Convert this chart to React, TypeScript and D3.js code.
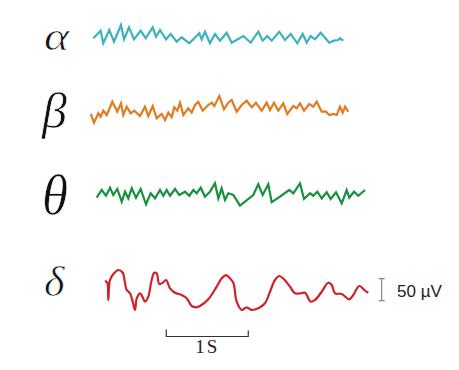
import React, { useEffect, useRef } from "react";
import * as d3 from "d3";

// Band names and colours
const bands = ["α", "β", "θ", "δ"];
const bandColors = ["#3bb3bd", "#e07b22", "#17903f", "#cf2127"];

// Time (s) and amplitude (µV) samples
const alphaT = [0.040,0.130,0.162,0.235,0.293,0.378,0.415,0.476,0.537,0.618,0.679,0.765,0.805,0.854,0.927,0.984,1.057,1.118,1.211,1.333,1.362,1.402,1.463,1.524,1.585,1.667,1.728,1.870,1.960,2.052,2.106,2.162,2.216,2.309,2.378,2.448,2.528,2.594,2.643,2.691,2.744,2.813,2.918,2.976,3.028,3.049,3.089];
const alphaV = [-7.5,9.8,-18.8,11.4,-15.2,22.7,-9.8,17.5,-9.8,9.8,-7.5,17.5,-3.9,11.4,-9.8,2.3,-15.2,-5.2,-18.8,3.9,-9.8,7.5,-18.8,2.3,-12.9,5.2,-17.5,-2.3,-17.5,7.5,-12.9,-2.3,-12.9,7.5,-11.4,2.3,-18.8,2.3,-17.5,-2.3,-9.8,5.2,-17.5,-12.9,-11.4,-7.5,-12.9];

const betaT = [0.009,0.049,0.101,0.130,0.162,0.204,0.272,0.333,0.378,0.406,0.448,0.496,0.540,0.610,0.671,0.711,0.765,0.813,0.874,0.915,0.955,0.996,1.028,1.065,1.098,1.138,1.199,1.240,1.280,1.321,1.374,1.443,1.484,1.516,1.577,1.634,1.687,1.728,1.789,1.850,1.911,1.972,2.024,2.094,2.155,2.195,2.244,2.296,2.357,2.406,2.479,2.521,2.561,2.610,2.674,2.723,2.765,2.826,2.878,2.918,2.967,3.009,3.049,3.082,3.110,3.150];
const betaV = [-9.1,-28.8,-7.5,-15.2,-1.6,-11.4,18.8,-3.9,15.2,-11.4,7.5,-7.5,-1.6,-13.6,7.5,-13.6,9.1,-18.8,-9.1,-22.7,-6.1,-16.6,6.1,-1.6,16.6,-11.4,3.9,-6.1,11.4,18.8,-1.6,11.4,16.6,9.1,31.8,1.6,16.6,22.7,-3.9,11.4,21.1,6.1,16.6,-1.6,16.6,0,16.6,-1.6,15.2,-9.1,9.1,3.9,15.2,-1.6,13.6,7.5,18.8,-3.9,-3.9,-11.4,-9.1,-11.4,7.5,-6.1,7.5,-3.9];

const thetaT = [0.082,0.143,0.195,0.244,0.284,0.333,0.387,0.427,0.467,0.509,0.561,0.618,0.683,0.740,0.793,0.854,0.894,0.935,0.976,1.037,1.089,1.159,1.211,1.260,1.301,1.350,1.402,1.463,1.524,1.565,1.606,1.646,1.687,1.748,1.829,1.991,2.052,2.106,2.174,2.216,2.317,2.430,2.479,2.561,2.610,2.683,2.723,2.772,2.826,2.887,2.935,3.000,3.070,3.130,3.162,3.220,3.272,3.354];
const thetaV = [-8.4,9.1,-3.9,14.3,-2.3,11.4,-17.5,5.2,-9.8,12.9,-8.4,11.4,-23.4,1.6,-9.8,9.1,-3.9,9.1,-3.9,11.4,-2.3,5.2,-3.9,9.1,1.6,14.3,-6.1,5.2,24.3,-9.8,12.9,-13.6,1.6,-2.3,-26.6,-2.3,22.0,-2.3,22.0,-18.8,-6.1,9.1,1.6,24.3,-11.4,1.6,-3.9,5.2,-9.8,3.9,-11.4,3.9,-21.1,9.1,-8.4,5.2,-3.9,9.1];

const deltaT = [0.183,0.211,0.223,0.244,0.293,0.345,0.399,0.427,0.448,0.488,0.521,0.549,0.570,0.610,0.643,0.671,0.711,0.752,0.784,0.813,0.845,0.887,0.927,0.976,1.037,1.118,1.179,1.240,1.293,1.341,1.443,1.545,1.606,1.659,1.707,1.748,1.789,1.850,1.911,1.972,2.052,2.134,2.195,2.256,2.309,2.366,2.439,2.500,2.570,2.622,2.691,2.744,2.826,2.906,2.948,2.988,3.070,3.162,3.210,3.284,3.354,3.394];
const deltaV = [23.4,18.8,-20.4,25.0,40.2,47.7,41.5,17.5,2.3,-5.2,-24.3,-43.1,-16.6,-5.2,-14.3,-24.3,-12.9,25.0,41.5,40.2,15.9,18.8,25.0,6.1,-3.9,-9.1,-16.6,-34.1,-37.0,-34.1,-18.8,9.8,28.8,36.3,28.8,18.8,-24.3,-43.1,-37.0,-43.1,-39.3,-27.9,-1.6,25.0,34.1,26.6,9.8,-5.2,-5.2,-3.9,-24.3,-20.4,-1.6,18.8,13.6,-5.2,-6.8,-18.8,-9.1,11.4,0.7,-3.9];

const seriesT = [alphaT, betaT, thetaT, deltaT];
const seriesV = [alphaV, betaV, thetaV, deltaV];

// Scale bars
const timeBarStart = 0.93; // s
const timeBarLength = 1; // s
const timeBarLabel = "1S";
const voltBarT = 3.557; // s
const voltBarRange = [-22, 28]; // µV (50 µV)
const voltBarLabel = "50 µV";

export default function App() {
  const ref = useRef<SVGSVGElement>(null);
  useEffect(() => {
    const svg = d3.select(ref.current);
    svg.selectAll("*").remove();

    const x = d3.scaleLinear().domain([0, 3.5]).range([90, 90 + 3.5 * 82]);
    const amp = d3.scaleLinear().domain([-50, 50]).range([22, -22]);
    const centers = [35, 110, 194, 291];
    const glyph = [
      { size: 40, dx: 44, dy: 50, sx: 1.2 },
      { size: 50, dx: 42, dy: 128, sx: 1.0 },
      { size: 56, dx: 42, dy: 214, sx: 0.95 },
      { size: 42, dx: 44, dy: 296, sx: 1.05 },
    ];

    bands.forEach((b, i) => {
      const c = centers[i];
      const line = d3
        .line<number>()
        .x((_, j) => x(seriesT[i][j]))
        .y((v) => c + amp(v))
        .curve(i === 3 ? d3.curveCatmullRom.alpha(0.5) : d3.curveLinear);
      svg
        .append("path")
        .attr("d", line(seriesV[i]))
        .attr("fill", "none")
        .attr("stroke", bandColors[i])
        .attr("stroke-width", 2.2)
        .attr("stroke-linejoin", "miter");

      const g = glyph[i];
      svg
        .append("text")
        .attr("transform", `translate(${g.dx},${g.dy}) scale(${g.sx},1)`)
        .attr("font-family", "Liberation Serif")
        .attr("font-style", "italic")
        .attr("font-size", g.size)
        .attr("fill", "#111")
        .attr("stroke", "#fff")
        .attr("stroke-width", 0.7)
        .text(b);
    });

    // time scale bar
    const tb = svg.append("g").attr("stroke", "#333").attr("stroke-width", 1.2).attr("fill", "none");
    const x0 = x(timeBarStart), x1 = x(timeBarStart + timeBarLength);
    const by = 336.5;
    tb.append("path").attr("d", `M${x0},${by - 7}V${by}H${x1}V${by - 6}`);
    svg
      .append("text")
      .attr("x", (x0 + x1) / 2)
      .attr("y", 353)
      .attr("text-anchor", "middle")
      .attr("font-family", "Liberation Serif")
      .attr("font-size", 19)
      .attr("letter-spacing", 2)
      .attr("fill", "#222")
      .text(timeBarLabel);

    // voltage scale bar
    const vx = x(voltBarT);
    const dc = centers[3];
    const yTop = dc + amp(voltBarRange[1]);
    const yBot = dc + amp(voltBarRange[0]);
    svg
      .append("path")
      .attr("d", `M${vx - 3},${yTop}H${vx + 3}M${vx},${yTop}V${yBot}M${vx - 3},${yBot}H${vx + 3}`)
      .attr("stroke", "#888")
      .attr("stroke-width", 1.2)
      .attr("fill", "none");
    svg
      .append("text")
      .attr("x", 397)
      .attr("y", 297)
      .attr("font-family", "Liberation Sans")
      .attr("font-size", 17)
      .attr("fill", "#222")
      .text(voltBarLabel);
  }, []);

  return (
    <svg
      ref={ref}
      width={459}
      height={370}
      style={{ position: "absolute", left: 0, top: 0, background: "#fff" }}
    />
  );
}
